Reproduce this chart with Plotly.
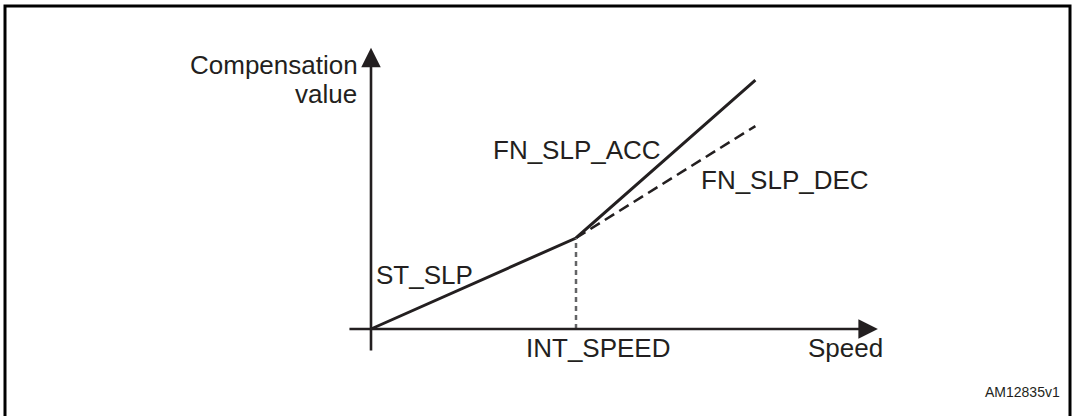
import plotly.graph_objects as go

# ---- data (arbitrary units) ----
speed_acc = [0, 4, 7.5]          # origin, INT_SPEED, end
comp_acc = [0, 2, 5.47]          # ST_SLP then FN_SLP_ACC
speed_dec = [4, 7.5]
comp_dec = [2, 4.46]             # FN_SLP_DEC branch
int_speed = 4
int_comp = 2
labels = ["FN_SLP_ACC", "FN_SLP_DEC", "ST_SLP", "INT_SPEED", "Speed"]
y_title = ["Compensation", "value"]
ref_id = "AM12835v1"

FONT = "Liberation Sans, Arial, Helvetica, sans-serif"
INK = "#231f20"
FS = 26

fig = go.Figure()
fig.add_trace(go.Scatter(x=speed_acc, y=comp_acc, mode="lines",
                         line=dict(color=INK, width=3), hoverinfo="skip"))
fig.add_trace(go.Scatter(x=speed_dec, y=comp_dec, mode="lines",
                         line=dict(color=INK, width=2.6, dash="11px,6px"), hoverinfo="skip"))
fig.add_trace(go.Scatter(x=[int_speed, int_speed], y=[0, int_comp], mode="lines",
                         line=dict(color="#636466", width=2.5, dash="5px,4px"), hoverinfo="skip"))

ann = []
# axes arrows
ann.append(dict(x=9.89, y=0, ax=-0.45, ay=0, xref="x", yref="y", axref="x", ayref="y",
                text="", showarrow=True, arrowhead=2, arrowsize=1.5, arrowwidth=2.6,
                arrowcolor=INK, standoff=0, startstandoff=0))
ann.append(dict(x=0, y=6.18, ax=0, ay=-0.505, xref="x", yref="y", axref="x", ayref="y",
                text="", showarrow=True, arrowhead=2, arrowsize=1.5, arrowwidth=2.6,
                arrowcolor=INK, standoff=0, startstandoff=0))

def label(text, x, y, xanchor="left", size=FS, align="left"):
    ann.append(dict(x=x, y=y, xref="paper", yref="paper", text=text, showarrow=False,
                    xanchor=xanchor, yanchor="middle", align=align,
                    font=dict(family=FONT, size=size, color=INK)))

W, H = 1074, 416
def px(xp, yp):
    return xp / W, 1 - yp / H

x, y = px(360, 65); label(y_title[0], x, y, xanchor="right", align="right")
x, y = px(359, 94); label(y_title[1], x, y, xanchor="right", align="right")
x, y = px(491, 150); label(labels[0], x, y)
x, y = px(699, 180); label(labels[1], x, y)
x, y = px(374, 275); label(labels[2], x, y)
x, y = px(524, 348); label(labels[3], x, y)
x, y = px(806, 348); label(labels[4], x, y)
x, y = px(1062, 392); label(ref_id, x, y, xanchor="right", size=14)

fig.update_layout(
    width=W, height=H, margin=dict(l=0, r=0, t=0, b=0),
    paper_bgcolor="white", plot_bgcolor="white", showlegend=False,
    xaxis=dict(range=[-371 / 51.25, (W - 371) / 51.25], visible=False, fixedrange=True),
    yaxis=dict(range=[(329 - H) / 45.5, 329 / 45.5], visible=False, fixedrange=True),
    annotations=ann,
    shapes=[dict(type="rect", xref="paper", yref="paper",
                 x0=5 / W, x1=1070 / W, y0=-0.2, y1=1 - 6 / H,
                 line=dict(color="black", width=3), layer="above")],
)
fig.write_html("out.html", config={"displayModeBar": False},
               post_script="document.body.style.margin='0';document.body.style.overflow='hidden';")
